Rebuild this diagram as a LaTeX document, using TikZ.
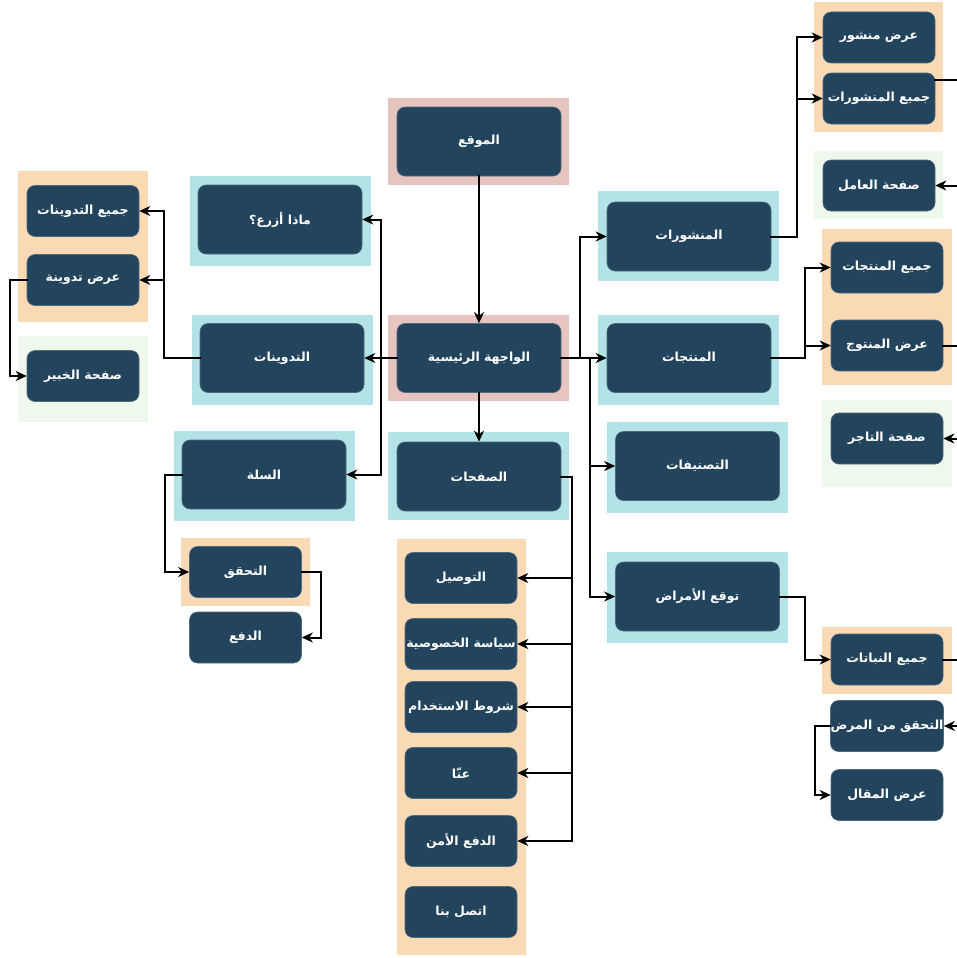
\documentclass[tikz,border=0pt]{standalone}
\usepackage{fontspec}
\usetikzlibrary{arrows.meta}
\TeXXeTstate=1
\newfontfamily\arabicfont[Script=Arabic]{DejaVu Sans}
\newcommand\artxt[1]{\beginR #1\endR}
\definecolor{nodefill}{HTML}{23445D}
\definecolor{bgcyan}{HTML}{B3E3E6}
\definecolor{bgorange}{HTML}{FAD9B5}
\definecolor{bgpink}{HTML}{E6C4C0}
\definecolor{bggreen}{HTML}{EFF8EC}
\tikzset{
  box/.style={rectangle, rounded corners=8pt, fill=nodefill, draw=nodefill!80!white, line width=0.6pt, text=white,
    font=\arabicfont\bfseries\fontsize{12.5}{14}\selectfont, inner sep=0pt, align=center},
  bigbox/.style={box, minimum width=164pt, minimum height=69pt},
  smallbox/.style={box, minimum width=112pt, minimum height=51pt},
  conn/.style={draw=black, line width=2pt, line cap=rect, -{Stealth[length=11pt,width=10pt,inset=3.5pt]}},
  plain/.style={draw=black, line width=2pt, line cap=rect},
}
\begin{document}
\begin{tikzpicture}[x=1pt,y=-1pt]
\useasboundingbox (0,0) rectangle (956,958);
\fill[white] (0,0) rectangle (956,958);
% backgrounds
\fill[bgpink] (388,98) rectangle (569,185);
\fill[bgpink] (388,315) rectangle (569,401);
\fill[bgcyan] (388,432) rectangle (569,520);
\fill[bgcyan] (190,176) rectangle (371,266);
\fill[bgcyan] (192,315) rectangle (373,405);
\fill[bgcyan] (174,431) rectangle (355,521);
\fill[bgcyan] (598,191) rectangle (779,281);
\fill[bgcyan] (598,315) rectangle (779,405);
\fill[bgcyan] (607,422) rectangle (788,513);
\fill[bgcyan] (607,552) rectangle (788,643);
\fill[bgorange] (18,171) rectangle (148,322);
\fill[bgorange] (181,538) rectangle (310,606);
\fill[bgorange] (397,539) rectangle (526,955);
\fill[bgorange] (814,2) rectangle (943,132);
\fill[bgorange] (822,229) rectangle (952,385);
\fill[bgorange] (822,627) rectangle (952,694);
\fill[bggreen] (18,336) rectangle (148,422);
\fill[bggreen] (814,151) rectangle (943,219);
\fill[bggreen] (822,400) rectangle (952,487);
% nodes
\node[bigbox] (site) at (479,141.5) {\artxt{الموقع}};
\node[bigbox] (home) at (479,358) {\artxt{الواجهة الرئيسية}};
\node[bigbox] (pages) at (479,476.5) {\artxt{الصفحات}};
\node[bigbox] (plant) at (280,219.5) {\artxt{ماذا أزرع؟}};
\node[bigbox] (blogs) at (282,358) {\artxt{التدوينات}};
\node[bigbox] (cart) at (264,474.5) {\artxt{السلة}};
\node[smallbox] (allblogs) at (83,211) {\artxt{جميع التدوينات}};
\node[smallbox] (viewblog) at (83,280) {\artxt{عرض تدوينة}};
\node[smallbox] (expert) at (83,376) {\artxt{صفحة الخبير}};
\node[smallbox] (checkout) at (245.5,572) {\artxt{التحقق}};
\node[smallbox] (pay) at (245.5,637.5) {\artxt{الدفع}};
\node[smallbox] (delivery) at (461,578) {\artxt{التوصيل}};
\node[smallbox] (privacy) at (461,644) {\artxt{سياسة الخصوصية}};
\node[smallbox] (terms) at (461,707) {\artxt{شروط الاستخدام}};
\node[smallbox] (about) at (461,773) {\artxt{عنّا}};
\node[smallbox] (securepay) at (461,841) {\artxt{الدفع الأمن}};
\node[smallbox] (contact) at (461,912) {\artxt{اتصل بنا}};
\node[bigbox] (posts) at (689,236.5) {\artxt{المنشورات}};
\node[bigbox] (products) at (689,358) {\artxt{المنتجات}};
\node[bigbox] (categories) at (697.5,466) {\artxt{التصنيفات}};
\node[bigbox] (disease) at (697.5,596.5) {\artxt{توقع الأمراض}};
\node[smallbox] (viewpost) at (879,37.5) {\artxt{عرض منشور}};
\node[smallbox] (allposts) at (879,98.5) {\artxt{جميع المنشورات}};
\node[smallbox] (worker) at (879,185.5) {\artxt{صفحة العامل}};
\node[smallbox] (allproducts) at (887,267.5) {\artxt{جميع المنتجات}};
\node[smallbox] (viewproduct) at (887,345.5) {\artxt{عرض المنتوج}};
\node[smallbox] (merchant) at (887,438.5) {\artxt{صفحة التاجر}};
\node[smallbox] (allplants) at (887,659.5) {\artxt{جميع النباتات}};
\node[smallbox] (checkdisease) at (887,726) {\artxt{التحقق من المرض}};
\node[smallbox] (viewarticle) at (887,795) {\artxt{عرض المقال}};
% junctions
\coordinate (jl) at (381,358);
\coordinate (jr1) at (580,358);
\coordinate (jr2) at (590,358);
\coordinate (jp) at (572,476.5);
\coordinate (jb) at (164,358);
\coordinate (jpo) at (797,236.5);
\coordinate (jpr) at (805,358);
% edge coordinates (connectors leaving the picture)
\coordinate (out1) at (956,80);
\coordinate (out2) at (956,185.5);
\coordinate (out3) at (956,345.5);
\coordinate (out4) at (956,438.5);
\coordinate (out5) at (956,659.5);
\coordinate (out6) at (956,726);
% connectors
\draw[conn] (site.south) -- (home.north);
\draw[conn] (home.south) -- (pages.north);
\draw[conn] (home.west) -- (blogs.east);
\draw[plain] (jl |- plant.east) -- (jl |- cart.east);
\draw[conn] (jl |- plant.east) -- (plant.east);
\draw[conn] (jl |- cart.east) -- (cart.east);
\draw[conn] (home.east) -- (products.west);
\draw[conn] (jr1) |- (posts.west);
\draw[plain] (jr2) -- (jr2 |- disease.west);
\draw[conn] (jr2 |- categories.west) -- (categories.west);
\draw[conn] (jr2 |- disease.west) -- (disease.west);
\draw[plain] (pages.east) -- (jp) -- (jp |- securepay.east);
\foreach \t in {delivery,privacy,terms,about,securepay}
  \draw[conn] (jp |- \t.east) -- (\t.east);
\draw[plain] (blogs.west) -- (jb);
\draw[plain] (jb |- allblogs.east) -- (jb);
\draw[conn] (jb |- allblogs.east) -- (allblogs.east);
\draw[conn] (jb |- viewblog.east) -- (viewblog.east);
\draw[conn] (viewblog.west) -| (10,376) -- (expert.west);
\draw[conn] (cart.west) -| (165,572) -- (checkout.west);
\draw[conn] (checkout.east) -| (321,637.5) -- (pay.east);
\draw[plain] (posts.east) -- (jpo) -- (jpo |- viewpost.west);
\draw[conn] (jpo |- viewpost.west) -- (viewpost.west);
\draw[conn] (jpo |- allposts.west) -- (allposts.west);
\draw[plain] (products.east) -- (jpr) -- (jpr |- allproducts.west);
\draw[conn] (jpr |- allproducts.west) -- (allproducts.west);
\draw[conn] (jpr |- viewproduct.west) -- (viewproduct.west);
\draw[conn] (disease.east) -| (805,659.5) -- (allplants.west);
\draw[conn] (checkdisease.west) -| (815,795) -- (viewarticle.west);
\draw[plain] (allposts.east |- out1) -- (out1);
\draw[conn] (out2) -- (worker.east);
\draw[plain] (viewproduct.east) -- (out3);
\draw[conn] (out4) -- (merchant.east);
\draw[plain] (allplants.east) -- (out5);
\draw[conn] (out6) -- (checkdisease.east);
\end{tikzpicture}
\end{document}
